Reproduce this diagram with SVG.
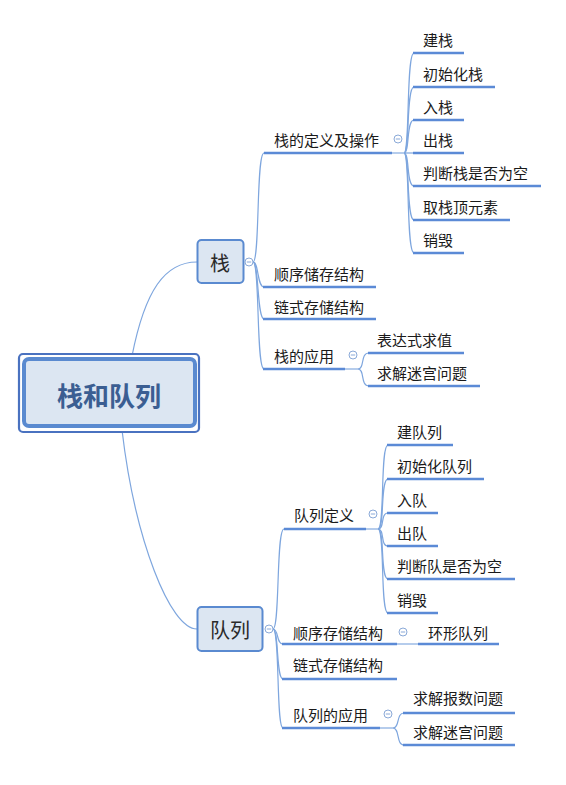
<svg xmlns="http://www.w3.org/2000/svg" width="566" height="785" viewBox="0 0 566 785">
<style>
text{font-family:"Microsoft YaHei","Noto Sans CJK SC","Noto Sans",sans-serif;fill:#1a1a1a;dominant-baseline:central}
.t{font-size:15px}
.ul{stroke:#5b8ad6;stroke-width:2.5;fill:none;stroke-linecap:butt}
.c{stroke:#7ea6de;stroke-width:1.2;fill:none}
.thin{stroke:#9dbbe6;stroke-width:1.5;fill:none}
.btn circle{fill:#fff;stroke:#8aa9d8;stroke-width:1}
.btn line{stroke:#8aa9d8;stroke-width:1}
.node rect{fill:#dce6f2;stroke:#5a8ad0;stroke-width:2}
</style>
<defs>
<g id="minus" class="btn"><circle cx="0" cy="0" r="4"/><line x1="-2.2" y1="0" x2="2.2" y2="0"/></g>
</defs>
<g id="connectors">
<path class="c" d="M132,356 C145,290 165,262 197,262"/>
<path class="c" d="M122,430 C135,540 170,629 197,629"/>
<!-- stack children -->
<path class="c" d="M253,262 C260,262 256,153 264,153"/>
<path class="c" d="M253,262 C259,262 257,287 264,287"/>
<path class="c" d="M253,262 C259,262 257,319 264,319"/>
<path class="c" d="M253,262 C260,262 256,369 264,369"/>
<!-- stack def children -->
<line class="thin" x1="392" y1="153" x2="404" y2="153"/>
<path class="c" d="M404,153 C410,153 406,53 414,53"/>
<path class="c" d="M404,153 C410,153 406,87 414,87"/>
<path class="c" d="M404,153 C410,153 406,120 414,120"/>
<path class="c" d="M404,153 L414,153"/>
<path class="c" d="M404,153 C410,153 406,186 414,186"/>
<path class="c" d="M404,153 C410,153 406,220 414,220"/>
<path class="c" d="M404,153 C410,153 406,253 414,253"/>
<!-- stack app children -->
<line class="thin" x1="345" y1="369" x2="358" y2="369"/>
<path class="c" d="M358,369 C365,369 360,353 369,353"/>
<path class="c" d="M358,369 C365,369 360,386 369,386"/>
<!-- queue children -->
<path class="c" d="M273,629 C280,629 276,529 284,529"/>
<path class="c" d="M273,629 C279,629 276,644 283,644"/>
<path class="c" d="M273,629 C279,629 276,679 283,679"/>
<path class="c" d="M273,629 C280,629 276,728 283,728"/>
<!-- queue def children -->
<line class="thin" x1="366" y1="529" x2="378" y2="529"/>
<path class="c" d="M378,529 C385,529 380,445 388,445"/>
<path class="c" d="M378,529 C385,529 380,479 388,479"/>
<path class="c" d="M378,529 C385,529 380,513 388,513"/>
<path class="c" d="M378,529 C385,529 380,546 388,546"/>
<path class="c" d="M378,529 C385,529 380,579 388,579"/>
<path class="c" d="M378,529 C385,529 380,613 388,613"/>
<!-- queue seq child -->
<line class="thin" x1="397" y1="644" x2="418" y2="644"/>
<!-- queue app children -->
<line class="thin" x1="380" y1="728" x2="393" y2="728"/>
<path class="c" d="M393,728 C400,728 396,713 404,713"/>
<path class="c" d="M393,728 C400,728 396,745 404,745"/>
</g>
<g id="root">
<rect x="19" y="354" width="180" height="78" rx="4" fill="#fff" stroke="#4a72c0" stroke-width="2.2"/>
<rect x="24" y="359" width="171" height="67" rx="5" fill="#dce6f2" stroke="#5a8ad0" stroke-width="4"/>
<text x="109" y="394" text-anchor="middle" style="font-size:26px;font-weight:bold;fill:#3b5e92">栈和队列</text>
</g>
<g id="stack" class="node">
<rect x="197.5" y="240" width="46" height="43" rx="4"/>
<text x="220" y="262" text-anchor="middle" style="font-size:20px;fill:#2a2a2a">栈</text>
<use href="#minus" x="249" y="262"/>
</g>
<g id="queue" class="node">
<rect x="197.5" y="607" width="65" height="44" rx="4"/>
<text x="230" y="629" text-anchor="middle" style="font-size:20px;fill:#2a2a2a">队列</text>
<use href="#minus" x="269" y="629"/>
</g>
<g id="stack-def"><text class="t" x="274" y="139">栈的定义及操作</text><line class="ul" x1="264" y1="153" x2="392" y2="153"/><use href="#minus" x="398" y="139"/></g>
<g id="s1"><text class="t" x="423" y="39">建栈</text><line class="ul" x1="413" y1="53" x2="464" y2="53"/></g>
<g id="s2"><text class="t" x="423" y="73">初始化栈</text><line class="ul" x1="413" y1="87" x2="495" y2="87"/></g>
<g id="s3"><text class="t" x="423" y="106">入栈</text><line class="ul" x1="413" y1="120" x2="464" y2="120"/></g>
<g id="s4"><text class="t" x="423" y="139">出栈</text><line class="ul" x1="413" y1="153" x2="464" y2="153"/></g>
<g id="s5"><text class="t" x="423" y="172">判断栈是否为空</text><line class="ul" x1="413" y1="186" x2="541" y2="186"/></g>
<g id="s6"><text class="t" x="423" y="206">取栈顶元素</text><line class="ul" x1="413" y1="220" x2="510" y2="220"/></g>
<g id="s7"><text class="t" x="423" y="239">销毁</text><line class="ul" x1="413" y1="253" x2="464" y2="253"/></g>
<g id="stack-seq"><text class="t" x="274" y="273">顺序储存结构</text><line class="ul" x1="263" y1="287" x2="376" y2="287"/></g>
<g id="stack-link"><text class="t" x="274" y="306">链式存储结构</text><line class="ul" x1="263" y1="319" x2="376" y2="319"/></g>
<g id="stack-app"><text class="t" x="274" y="355">栈的应用</text><line class="ul" x1="263" y1="369" x2="345" y2="369"/><use href="#minus" x="353" y="355"/></g>
<g id="sa1"><text class="t" x="377" y="339">表达式求值</text><line class="ul" x1="368" y1="353" x2="464" y2="353"/></g>
<g id="sa2"><text class="t" x="377" y="372">求解迷宫问题</text><line class="ul" x1="368" y1="386" x2="480" y2="386"/></g>
<g id="queue-def"><text class="t" x="294" y="514">队列定义</text><line class="ul" x1="284" y1="529" x2="366" y2="529"/><use href="#minus" x="373" y="514"/></g>
<g id="q1"><text class="t" x="397" y="431">建队列</text><line class="ul" x1="387" y1="445" x2="453" y2="445"/></g>
<g id="q2"><text class="t" x="397" y="465">初始化队列</text><line class="ul" x1="387" y1="479" x2="484" y2="479"/></g>
<g id="q3"><text class="t" x="397" y="499">入队</text><line class="ul" x1="387" y1="513" x2="438" y2="513"/></g>
<g id="q4"><text class="t" x="397" y="532">出队</text><line class="ul" x1="387" y1="546" x2="438" y2="546"/></g>
<g id="q5"><text class="t" x="397" y="565">判断队是否为空</text><line class="ul" x1="387" y1="579" x2="515" y2="579"/></g>
<g id="q6"><text class="t" x="397" y="599">销毁</text><line class="ul" x1="387" y1="613" x2="438" y2="613"/></g>
<g id="queue-seq"><text class="t" x="293" y="632">顺序存储结构</text><line class="ul" x1="282" y1="644" x2="397" y2="644"/><use href="#minus" x="403" y="632"/></g>
<g id="queue-ring"><text class="t" x="428" y="632">环形队列</text><line class="ul" x1="418" y1="644" x2="499" y2="644"/></g>
<g id="queue-link"><text class="t" x="293" y="664">链式存储结构</text><line class="ul" x1="282" y1="679" x2="397" y2="679"/></g>
<g id="queue-app"><text class="t" x="293" y="714">队列的应用</text><line class="ul" x1="282" y1="728" x2="380" y2="728"/><use href="#minus" x="388" y="714"/></g>
<g id="qa1"><text class="t" x="413" y="697">求解报数问题</text><line class="ul" x1="403" y1="713" x2="515" y2="713"/></g>
<g id="qa2"><text class="t" x="413" y="731">求解迷宫问题</text><line class="ul" x1="403" y1="745" x2="515" y2="745"/></g>
</svg>
